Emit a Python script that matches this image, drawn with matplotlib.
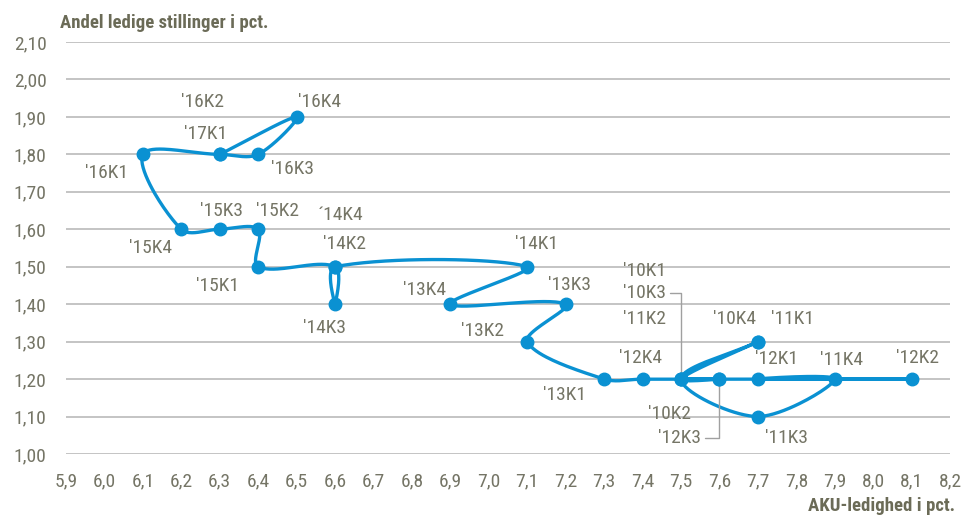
import numpy as np
import matplotlib.pyplot as plt
from matplotlib import font_manager as fm

# kvartaler, AKU-ledighed (x) og andel ledige stillinger (y)
kvartaler = ["'10K1", "'10K2", "'10K3", "'10K4", "'11K1", "'11K2", "'11K3", "'11K4",
             "'12K1", "'12K2", "'12K3", "'12K4", "'13K1", "'13K2", "'13K3", "'13K4",
             "'14K1", "'14K2", "'14K3", "\u00b414K4", "'15K1", "'15K2", "'15K3", "'15K4",
             "'16K1", "'16K2", "'16K3", "'16K4", "'17K1"]
aku = [7.5, 7.6, 7.5, 7.7, 7.7, 7.5, 7.7, 7.9,
       7.7, 8.1, 7.6, 7.4, 7.3, 7.1, 7.2, 6.9,
       7.1, 6.6, 6.6, 6.6, 6.4, 6.4, 6.3, 6.2,
       6.1, 6.3, 6.4, 6.5, 6.3]
ledige = [1.20, 1.20, 1.20, 1.30, 1.30, 1.20, 1.10, 1.20,
          1.20, 1.20, 1.20, 1.20, 1.20, 1.30, 1.40, 1.40,
          1.50, 1.50, 1.40, 1.50, 1.50, 1.60, 1.60, 1.60,
          1.80, 1.80, 1.80, 1.90, 1.80]

# label offsets i pixels (dx, dy)
offsets = [(-36, 108), (-50, -35), (-36, 86), (-23, 23), (35, 23), (-36, 60), (29, -21), (7, 19),
           (19, 20), (6, 21), (-40, -59), (-2, 21), (-40, -16), (-45, 11), (4, 19), (-26, 14),
           (9, 23), (9, 23), (-11, -24), (6, 52), (-41, -19), (19, 18), (2, 18), (-31, -19),
           (-36, -19), (-17, 52), (34, -15), (23, 15), (-14, 20)]

BLAA = '#0a91d2'
TXT = '#757566'

# smal skrift hvis den findes
navne = {f.name for f in fm.fontManager.ttflist}
FAM, STRETCH = 'DejaVu Sans', 'condensed'
for kand in ['Liberation Sans Narrow', 'Roboto Condensed', 'Open Sans Condensed']:
    if kand in navne:
        FAM, STRETCH = kand, 'normal'
        break
plt.rcParams['font.family'] = [FAM, 'DejaVu Sans']
plt.rcParams['font.stretch'] = STRETCH

XMIN, XMAX, YMIN, YMAX = 5.9, 8.2, 1.0, 2.1
AX_W, AX_H = 884, 412


def smooth(xs, ys, n=40):
    # Bezier-udglatning a la Excel, regnet i pixelrum
    sx = AX_W / (XMAX - XMIN)
    sy = AX_H / (YMAX - YMIN)
    P = np.column_stack([np.array(xs) * sx, np.array(ys) * sy])
    out = []
    for i in range(len(P) - 1):
        p0 = P[max(i - 1, 0)]
        p1 = P[i]
        p2 = P[i + 1]
        p3 = P[min(i + 2, len(P) - 1)]
        l01 = np.hypot(*(p1 - p0))
        l12 = np.hypot(*(p2 - p1))
        l23 = np.hypot(*(p3 - p2))
        f1 = l12 / (l01 + l12) if l01 + l12 > 0 else 0
        f2 = l12 / (l12 + l23) if l12 + l23 > 0 else 0
        c1 = p1 + (p2 - p0) * f1 / 3
        c2 = p2 - (p3 - p1) * f2 / 3
        t = np.linspace(0, 1, n)[:, None]
        seg = (1 - t) ** 3 * p1 + 3 * (1 - t) ** 2 * t * c1 + 3 * (1 - t) * t ** 2 * c2 + t ** 3 * p2
        out.append(seg)
    s = np.vstack(out)
    return s[:, 0] / sx, s[:, 1] / sy


fig = plt.figure(figsize=(9.62, 5.17), dpi=100)
ax = fig.add_axes([66 / 962, 1 - 454 / 517, AX_W / 962, AX_H / 517])

sx, sy = smooth(aku, ledige)
ax.plot(sx, sy, color=BLAA, lw=2.4, solid_capstyle='round', zorder=3)
ax.plot(aku, ledige, 'o', color=BLAA, ms=9, zorder=4)

for lbl, x, y, (dx, dy) in zip(kvartaler, aku, ledige, offsets):
    ax.annotate(lbl, (x, y), xytext=(dx, dy), textcoords='offset pixels',
                ha='center', va='center', fontsize=14, color=TXT, zorder=5)

# hjælpelinjer for '10K3 og '12K3
for i, (dx, dy) in [(2, (-11, 86)), (10, (-14, -59))]:
    ax.annotate('', (aku[i], ledige[i]), xytext=(dx, dy), textcoords='offset pixels',
                arrowprops=dict(arrowstyle='-', color='#a0a0a0', lw=1,
                                connectionstyle='angle,angleA=0,angleB=90,rad=0',
                                shrinkA=0, shrinkB=0))

xt = np.arange(59, 83) / 10
yt = np.arange(100, 211, 10) / 100
ax.set_xlim(XMIN, XMAX)
ax.set_ylim(YMIN, YMAX)
ax.set_xticks(xt)
ax.set_yticks(yt)
ax.set_xticklabels([f'{v:.1f}'.replace('.', ',') for v in xt])
ax.set_yticklabels([f'{v:.2f}'.replace('.', ',') for v in yt])
ax.tick_params(length=0, labelsize=14, colors=TXT)
ax.tick_params(axis='x', pad=13)
ax.tick_params(axis='y', pad=14)
ax.grid(axis='y', color='#c4c4c4', lw=1.4)
ax.set_axisbelow(True)
for s in ax.spines.values():
    s.set_visible(False)

fig.text(60 / 962, 1 - 23 / 517, 'Andel ledige stillinger i pct.', fontsize=13.5,
         fontweight='bold', color='#6b6b57', va='center', ha='left')
fig.text(955 / 962, 1 - 506 / 517, 'AKU-ledighed i pct.', fontsize=13.5,
         fontweight='bold', color='#6b6b57', va='center', ha='right')

fig.savefig('out.png', dpi=100)
